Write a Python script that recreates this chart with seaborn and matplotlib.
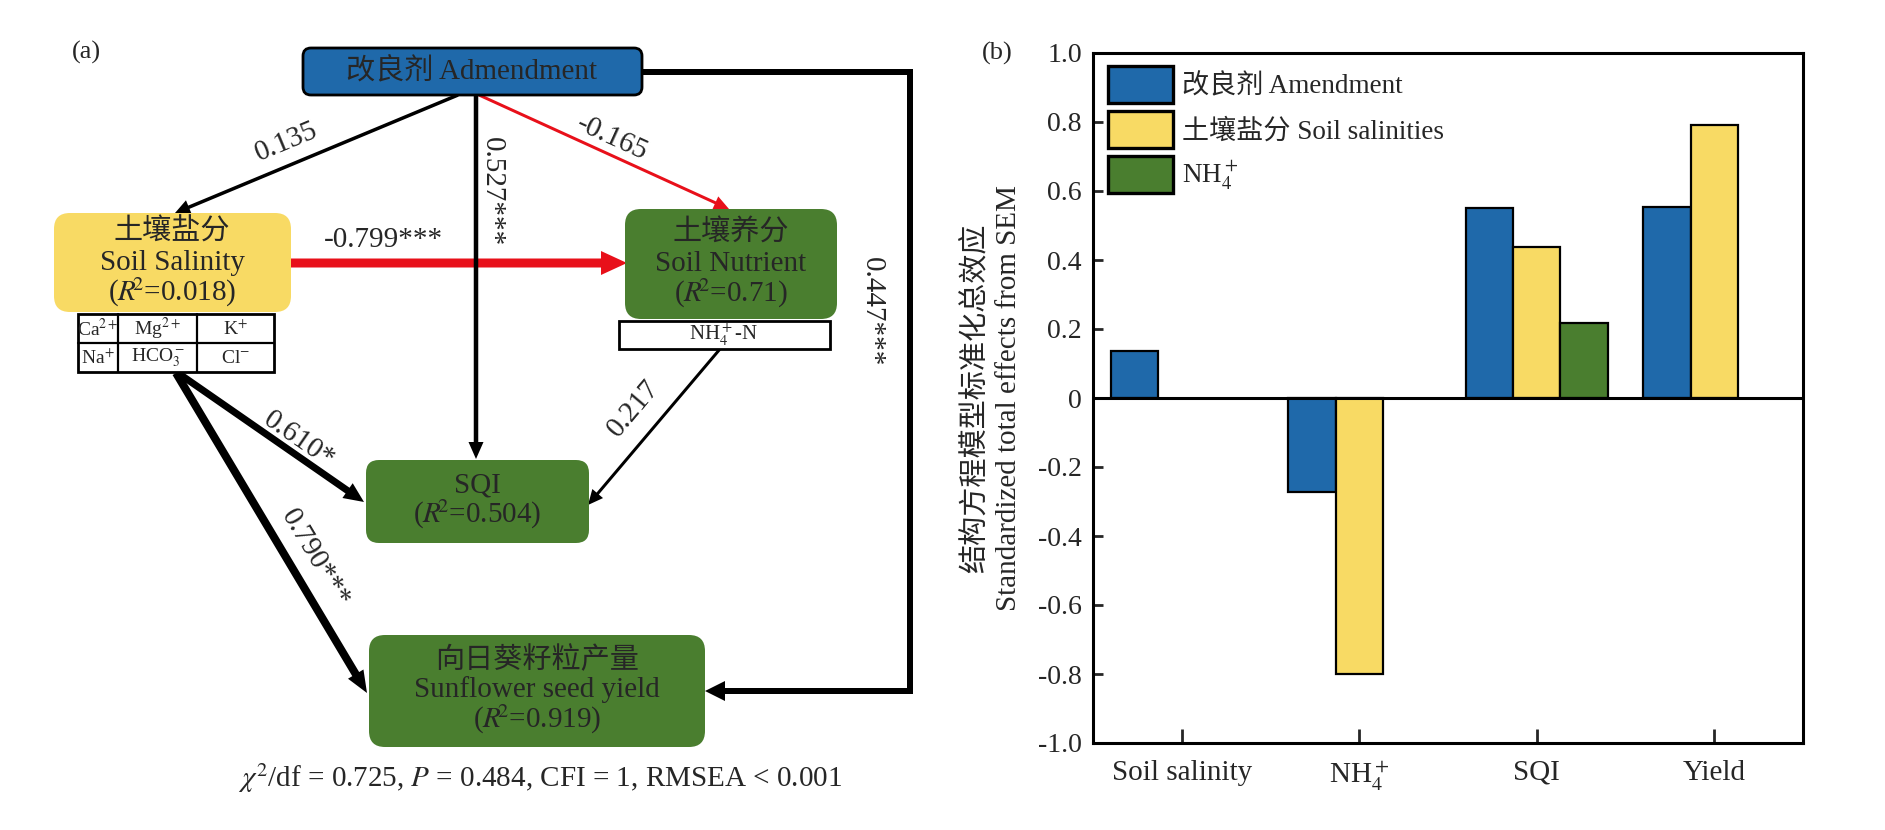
import numpy as np
import pandas as pd
import seaborn as sns
import matplotlib
matplotlib.use("Agg")
import matplotlib.pyplot as plt
from matplotlib.patches import FancyBboxPatch, FancyArrowPatch, Rectangle, Patch, ArrowStyle
from matplotlib.lines import Line2D
from matplotlib.font_manager import FontProperties

# ---------------- data ----------------
categories = ["Soil salinity", "NH$_4^+$", "SQI", "Yield"]
series_names = ["改良剂 Amendment", "土壤盐分 Soil salinities", "NH$_4^+$"]
amendment_effects = [0.135, -0.273, 0.550, 0.554]
salinity_effects = [np.nan, -0.799, 0.437, 0.790]
nh4_effects = [np.nan, np.nan, 0.217, np.nan]
y_ticks = [-1.0, -0.8, -0.6, -0.4, -0.2, 0.0, 0.2, 0.4, 0.6, 0.8, 1.0]
y_tick_labels = ["-1.0", "-0.8", "-0.6", "-0.4", "-0.2", "0", "0.2", "0.4", "0.6", "0.8", "1.0"]
y_label = "结构方程模型标准化总效应\nStandardized total effects from SEM"

# SEM diagram content
node_amend = "改良剂 Admendment"
node_salinity = ["土壤盐分", "Soil Salinity", "($R\\!^{2}$=0.018)"]
node_nutrient = ["土壤养分", "Soil Nutrient", "($R\\!^{2}$=0.71)"]
node_sqi = ["SQI", "($R\\!^{2}$=0.504)"]
node_yield = ["向日葵籽粒产量", "Sunflower seed yield", "($R\\!^{2}$=0.919)"]
salt_ions = [["Ca$^{2+}$", "Mg$^{2+}$", "K$^{+}$"], ["Na$^{+}$", "HCO$_3^-$", "Cl$^{-}$"]]
nutrient_item = "NH$_4^+$-N"
path_labels = {"amend_sal": "0.135", "amend_sqi": "0.527***", "amend_nut": "-0.165",
               "sal_nut": "-0.799***", "nut_sqi": "0.217", "sal_sqi": "0.610*",
               "sal_yield": "0.790***", "amend_yield": "0.447***"}
fit_text = "$\\chi^2$/df = 0.725, $P$ = 0.484, CFI = 1, RMSEA < 0.001"

# ---------------- style ----------------
BLUE = "#1f69aa"
YELLOW = "#f8da64"
GREEN = "#4a7e2f"
RED = "#e8101a"

sns.set_style("white")
SERIF = "Liberation Serif"
MIXED = ["Liberation Serif", "Noto Sans CJK SC"]
plt.rcParams["font.family"] = SERIF
plt.rcParams["mathtext.fontset"] = "stix"
plt.rcParams["axes.unicode_minus"] = False


def has_cjk(s):
    return any(ord(ch) > 0x2E80 for ch in s)


def fam(s):
    return MIXED if has_cjk(s) else SERIF


fig = plt.figure(figsize=(18.85, 8.3), dpi=100)

# ---------------- panel (a): SEM diagram (pixel layout) ----------------
axd = fig.add_axes([0, 0, 1, 1])
axd.set_xlim(0, 1885)
axd.set_ylim(830, 0)
axd.axis("off")
PX = 72 / 100.0


def arrow(p0, p1, w, color, hl, hw, z=2):
    style = ArrowStyle.Simple(head_length=hl * PX, head_width=hw * PX, tail_width=w * PX)
    a = FancyArrowPatch(p0, p1, arrowstyle=style, mutation_scale=1, facecolor=color,
                        edgecolor="none", lw=0, shrinkA=0, shrinkB=0, zorder=z)
    axd.add_patch(a)


def box(x0, y0, x1, y1, fc, r, ec="none", lw=0):
    p = FancyBboxPatch((x0, y0), x1 - x0, y1 - y0, boxstyle=f"round,pad=0,rounding_size={r}",
                       facecolor=fc, edgecolor=ec, linewidth=lw, zorder=4)
    axd.add_patch(p)


def txt(x, y, s, fs, **kw):
    kw.setdefault("ha", "center")
    kw.setdefault("va", "center")
    axd.text(x, y, s, fontsize=fs, fontfamily=fam(s), **kw)


NFS = 21
EFS = 21

# paths
arrow((291, 263), (627, 263), 9, RED, 26, 24)
arrow((479, 95), (729, 209), 3, RED, 15, 14)
arrow((458, 95), (175, 213), 3.5, "black", 15, 15)
arrow((476, 95), (476, 459), 4.5, "black", 17, 15)
arrow((720, 349), (588, 505), 3, "black", 15, 14)
arrow((178, 373), (364, 502), 7, "black", 20, 18)
arrow((176, 373), (367, 693), 8, "black", 22, 18)
axd.add_line(Line2D([642, 910, 910, 900], [72, 72, 691, 691], color="black", lw=6 * PX,
                    solid_joinstyle="miter", solid_capstyle="butt", zorder=2))
arrow((911, 691), (705, 691), 6, "black", 20, 20)

# path labels
txt(286, 142, path_labels["amend_sal"], EFS, rotation=22.6, rotation_mode="anchor")
txt(492, 192, path_labels["amend_sqi"], EFS, rotation=-90, rotation_mode="anchor")
txt(612, 138, path_labels["amend_nut"], EFS, rotation=-24.5, rotation_mode="anchor")
txt(383, 240, path_labels["sal_nut"], EFS)
txt(634, 409, path_labels["nut_sqi"], EFS, rotation=49.8, rotation_mode="anchor")
txt(299, 440, path_labels["sal_sqi"], EFS, rotation=-34.7, rotation_mode="anchor")
txt(315, 558, path_labels["sal_yield"], EFS, rotation=-59.2, rotation_mode="anchor")
txt(872, 312, path_labels["amend_yield"], EFS, rotation=-90, rotation_mode="anchor")

# nodes
box(303, 48, 642, 95, BLUE, 8, ec="black", lw=2)
txt(472, 72, node_amend, NFS, zorder=5)

box(54, 213, 291, 312, YELLOW, 16)
for t, y in zip(node_salinity, [232, 263, 292]):
    txt(172, y, t, NFS, zorder=5)

box(625, 209, 837, 319, GREEN, 16)
for t, y in zip(node_nutrient, [233, 264, 293]):
    txt(731, y, t, NFS, zorder=5)

box(366, 460, 589, 543, GREEN, 13)
for t, y in zip(node_sqi, [485, 514]):
    txt(477, y, t, NFS, zorder=5)

box(369, 635, 705, 747, GREEN, 16)
for t, y in zip(node_yield, [660, 690, 719]):
    txt(537, y, t, NFS, zorder=5)

# ion table
axd.add_patch(Rectangle((78, 314), 196, 58, facecolor="white", edgecolor="black", lw=2, zorder=4))
for xv in [118, 197]:
    axd.add_line(Line2D([xv, xv], [314, 372], color="black", lw=1.6, zorder=5))
axd.add_line(Line2D([78, 274], [343, 343], color="black", lw=1.6, zorder=5))
col_c = [98, 157.5, 235.5]
row_c = [329, 358]
for r, row in enumerate(salt_ions):
    for c, t in enumerate(row):
        txt(col_c[c], row_c[r], t, 14, zorder=6)

# nutrient item
axd.add_patch(Rectangle((619, 321), 211, 28, facecolor="white", edgecolor="black", lw=2, zorder=4))
txt(724, 335, nutrient_item, 15, zorder=6)

txt(540, 778, fit_text, EFS)
txt(86, 52, "(a)", 19)
txt(997, 53, "(b)", 19)

# ---------------- panel (b): bar chart ----------------
ax = fig.add_axes([1093 / 1885, 1 - 743 / 830, 710 / 1885, 690 / 830])
rows = []
for name, vals in zip(series_names, [amendment_effects, salinity_effects, nh4_effects]):
    for cat, v in zip(categories, vals):
        rows.append({"category": cat, "series": name, "effect": v})
df = pd.DataFrame(rows).dropna()

palette = dict(zip(series_names, [BLUE, YELLOW, GREEN]))
sns.barplot(data=df, x="category", y="effect", hue="series", order=categories,
            hue_order=series_names, palette=palette, width=0.8, saturation=1,
            edgecolor="black", linewidth=1.6, errorbar=None, ax=ax, legend=False, zorder=2)
ax.axhline(0, color="black", lw=2.2, zorder=3)

ax.set_xlim(-0.5, 3.5)
ax.set_ylim(-1.0, 1.0)
ax.set_yticks(y_ticks)
ax.set_yticklabels(y_tick_labels, fontfamily=SERIF)
ax.set_xticks(range(len(categories)))
ax.set_xticklabels(categories, fontfamily=SERIF)
ax.set_xlabel("")
ax.set_ylabel(y_label, fontsize=21, linespacing=1.35, fontfamily=MIXED)
ax.yaxis.set_label_coords(-0.1, 0.5)
ax.tick_params(axis="y", direction="in", length=7, width=2, labelsize=20, pad=8, left=True)
ax.tick_params(axis="x", direction="in", length=10, width=2, labelsize=21, pad=12, bottom=True)
for s in ax.spines.values():
    s.set_linewidth(2.2)
    s.set_color("black")

handles = [Patch(facecolor=c, edgecolor="black", linewidth=2.4, label=n)
           for n, c in zip(series_names, [BLUE, YELLOW, GREEN])]
ax.legend(handles=handles, loc="upper left", bbox_to_anchor=(15 / 710, 1 - 13 / 690),
          frameon=False, borderpad=0, borderaxespad=0, handlelength=2.4, handleheight=1.72,
          handletextpad=0.35, labelspacing=0.3, prop=FontProperties(family=MIXED, size=19.5))

fig.savefig("out.png", dpi=100)
